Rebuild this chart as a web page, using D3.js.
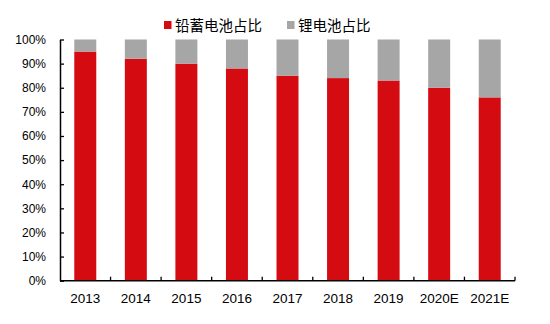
<!DOCTYPE html>
<html><head><meta charset="utf-8">
<script src="https://cdn.jsdelivr.net/npm/d3@7"></script>
<style>body{margin:0;background:#fff}svg{display:block}</style>
</head><body>
<svg id="c" width="550" height="324"></svg>
<script>
const categories = ["2013","2014","2015","2016","2017","2018","2019","2020E","2021E"];
const leadAcid = [95,92,90,88,85,84,83,80,76];
const lithium = leadAcid.map(v => 100 - v);
const yTicks = [0,10,20,30,40,50,60,70,80,90,100];
const seriesNames = ["铅蓄电池占比","锂电池占比"];
const colors = ["#d50b12","#a6a6a6"];

const svg = d3.select("#c");
const m = {l:60, r:35, t:39.5, b:43.3};
const W = 550, H = 324;
const x = d3.scaleBand().domain(categories).range([m.l, W - m.r]).paddingInner(0.565).paddingOuter(0.2825);
const y = d3.scaleLinear().domain([0,100]).range([H - m.b, m.t]);

const data = categories.map((c,i)=>({c, a:leadAcid[i], b:lithium[i]}));
const g = svg.append("g");
g.selectAll("rect.a").data(data).join("rect").attr("class","a")
  .attr("x", d=>x(d.c)).attr("width", x.bandwidth())
  .attr("y", d=>y(d.a)).attr("height", d=>y(0)-y(d.a)).attr("fill", colors[0]);
g.selectAll("rect.b").data(data).join("rect").attr("class","b")
  .attr("x", d=>x(d.c)).attr("width", x.bandwidth())
  .attr("y", d=>y(d.a+d.b)).attr("height", d=>y(d.a)-y(d.a+d.b)).attr("fill", colors[1]);

// y axis
const ya = svg.append("g").attr("transform",`translate(${m.l},0)`)
  .call(d3.axisLeft(y).tickValues(yTicks).tickFormat(d=>d+"%").tickSizeInner(-4).tickSizeOuter(0).tickPadding(14));
ya.select(".domain").attr("stroke","#000").attr("stroke-width",1.5);
ya.selectAll(".tick line").attr("stroke","#000").attr("stroke-width",1.3);
ya.selectAll("text").attr("font-family","Arial, 'Liberation Sans', sans-serif").attr("font-size",12).attr("fill","#000");

// x axis
const xb = d3.scaleLinear().domain([0,categories.length]).range([m.l, W - m.r]);
const xa = svg.append("g").attr("transform",`translate(0,${H-m.b})`);
xa.append("line").attr("x1",m.l).attr("x2",W-m.r).attr("stroke","#000").attr("stroke-width",1.5);
xa.selectAll("line.t").data(d3.range(1,categories.length+1)).join("line").attr("class","t")
  .attr("x1",d=>xb(d)).attr("x2",d=>xb(d)).attr("y1",0).attr("y2",-4).attr("stroke","#000").attr("stroke-width",1.3);
xa.selectAll("text").data(categories).join("text")
  .attr("x", d=>x(d)+x.bandwidth()/2).attr("y", 22).attr("text-anchor","middle")
  .attr("font-family","Arial, 'Liberation Sans', sans-serif").attr("font-size",13.5).attr("fill","#000").text(d=>d);

// legend
const lg = svg.append("g");
const items = [{x:164, name:seriesNames[0], col:colors[0]},{x:287, name:seriesNames[1], col:colors[1]}];
items.forEach(it=>{
  lg.append("rect").attr("x",it.x).attr("y",21).attr("width",7.5).attr("height",8).attr("fill",it.col);
  lg.append("text").attr("x",it.x+11).attr("y",31).attr("font-family","'Noto Sans CJK SC', sans-serif")
    .attr("font-size",14.5).attr("fill","#000").text(it.name);
});
</script>
</body></html>
